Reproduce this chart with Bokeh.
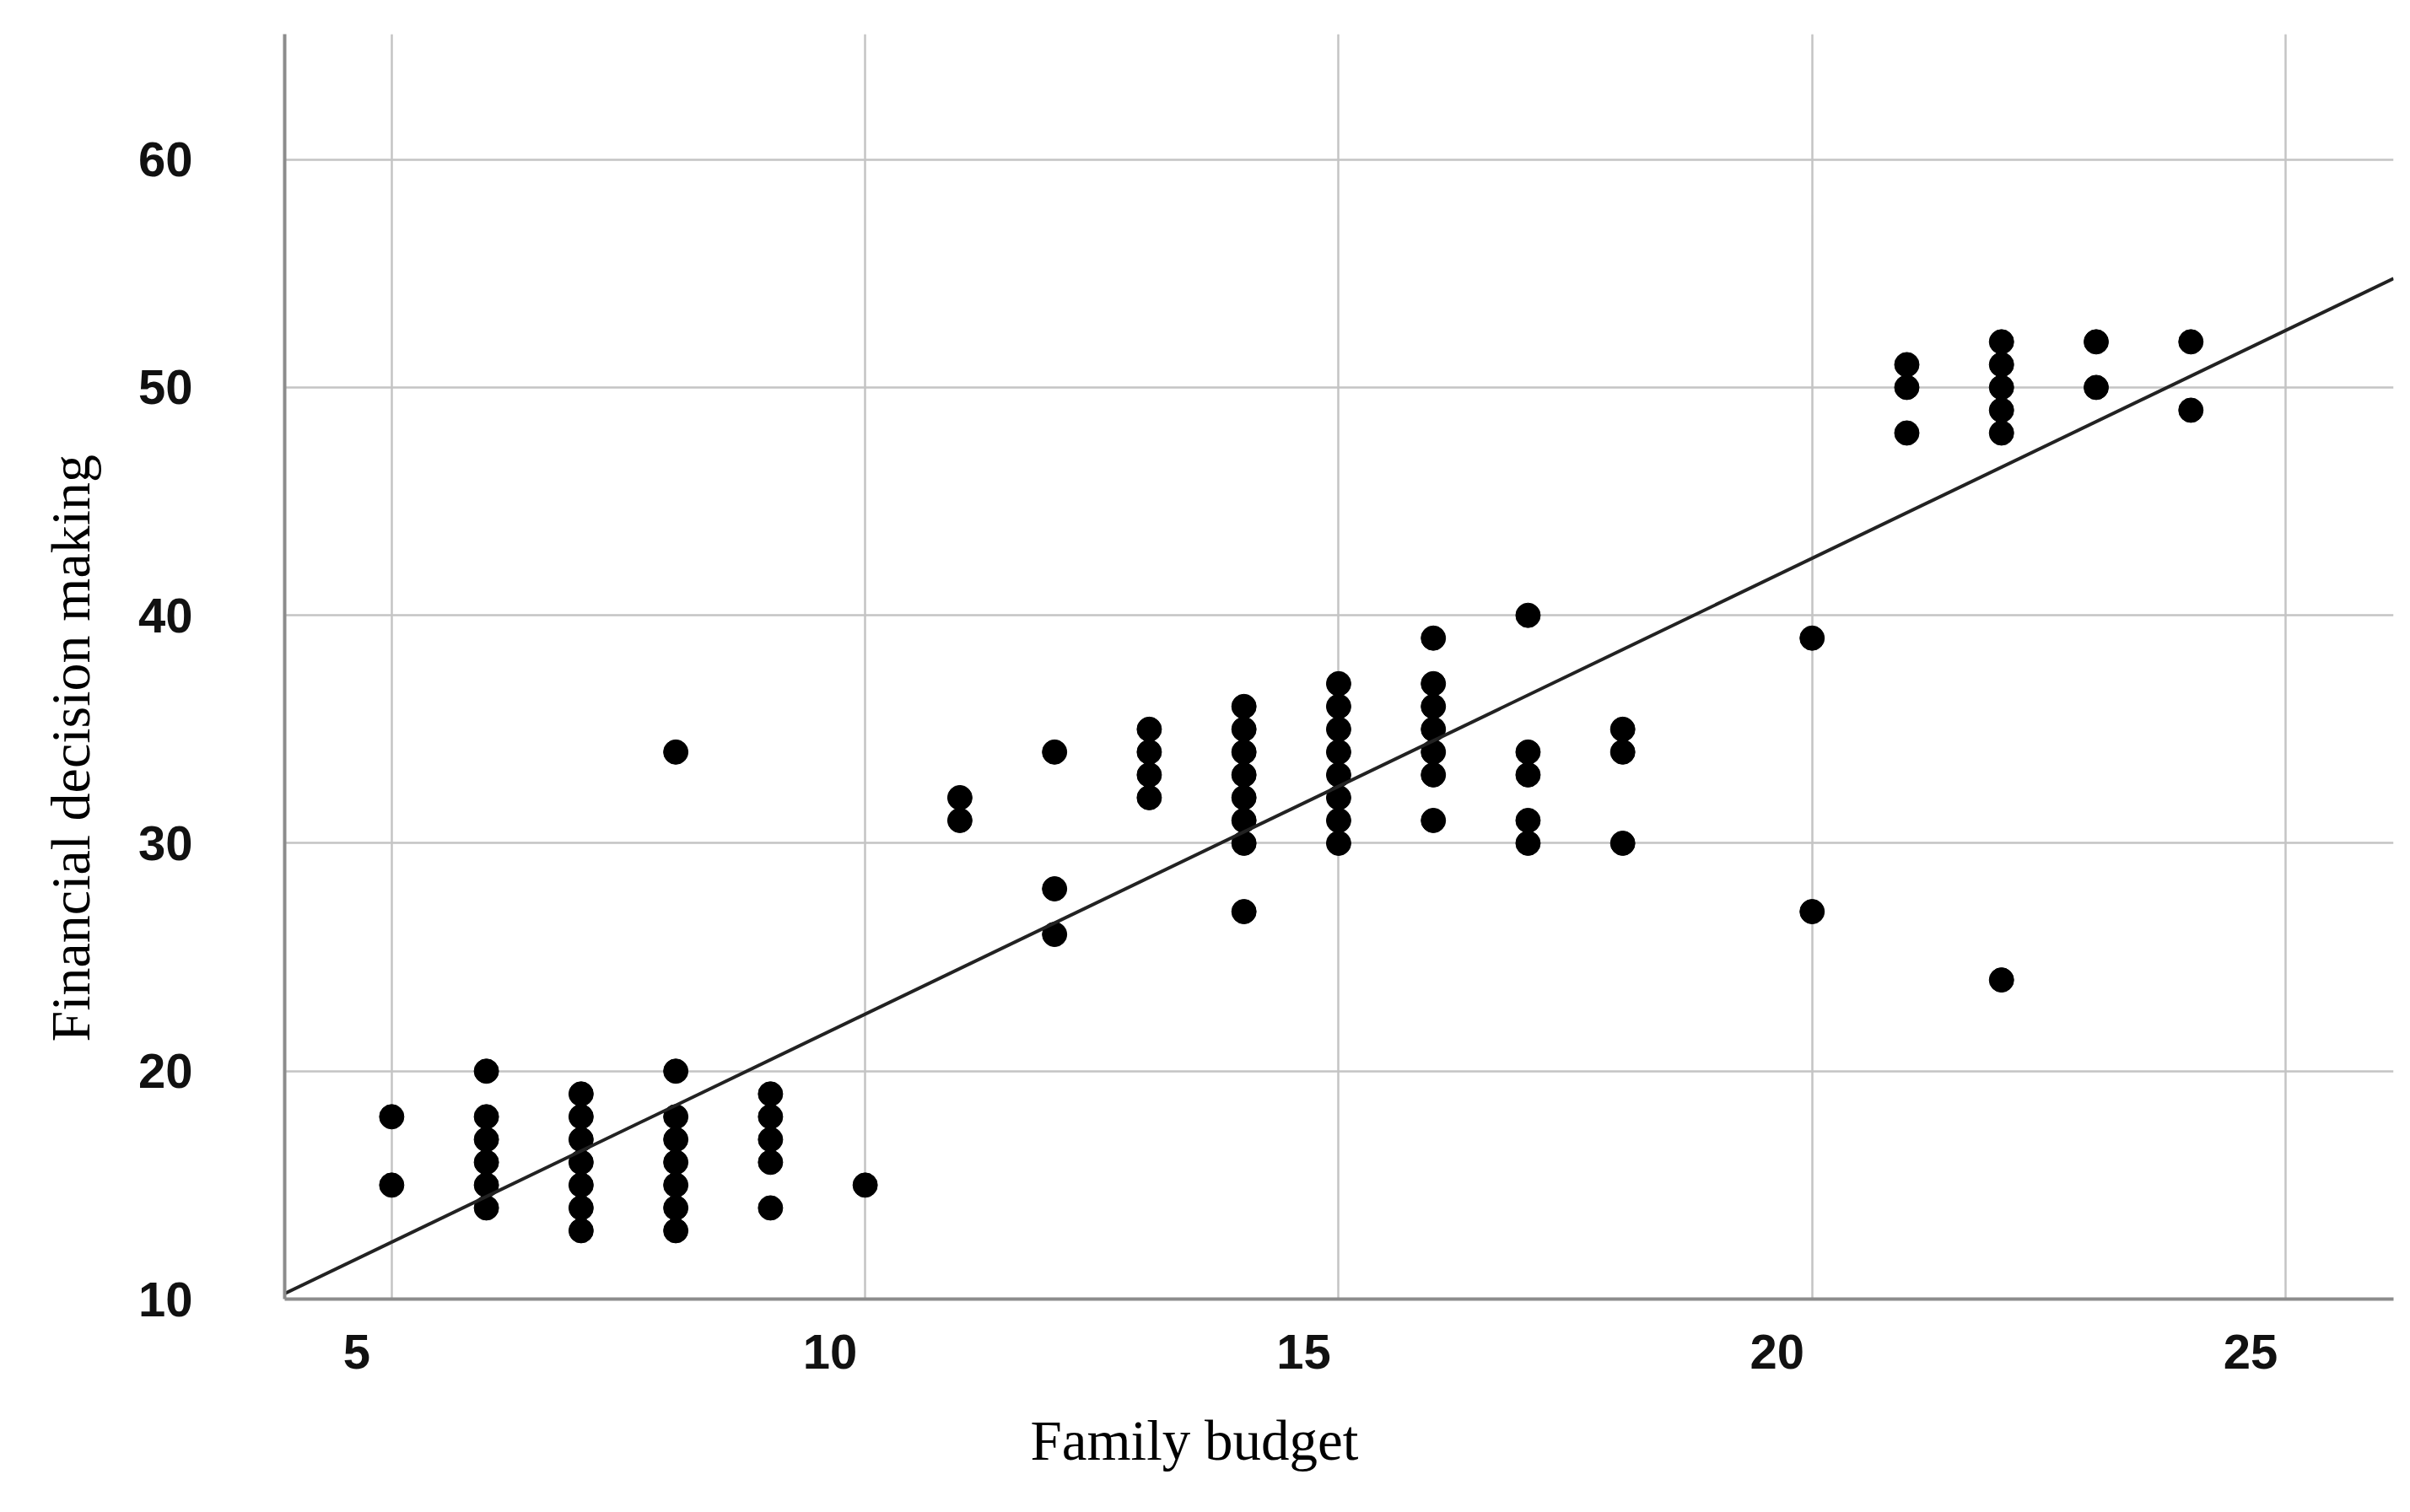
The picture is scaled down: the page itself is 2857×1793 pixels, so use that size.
from bokeh.plotting import figure
from bokeh.models import Range1d, LinearAxis, FixedTicker, Grid, Title
from bokeh.embed import file_html
from bokeh.resources import INLINE

# ---- data ----
budget_groups = [5, 6, 7, 8, 9, 10, 11, 12, 13, 14, 15, 16, 17, 18, 20, 21, 22, 23, 24]
decision_groups = [
    [18, 15],
    [20, 18, 17, 16, 15, 14],
    [19, 18, 17, 16, 15, 14, 13],
    [34, 20, 18, 17, 16, 15, 14, 13],
    [19, 18, 17, 16, 14],
    [15],
    [32, 31],
    [34, 28, 26],
    [35, 34, 33, 32],
    [36, 35, 34, 33, 32, 31, 30, 27],
    [37, 36, 35, 34, 33, 32, 31, 30],
    [39, 37, 36, 35, 34, 33, 31],
    [40, 34, 33, 31, 30],
    [35, 34, 30],
    [39, 27],
    [51, 50, 48],
    [52, 51, 50, 49, 48, 24],
    [52, 50],
    [52, 49],
]
family_budget = [b for b, ys in zip(budget_groups, decision_groups) for _ in ys]
financial_decision = [y for ys in decision_groups for y in ys]

# fitted line
fit_intercept = 2.5
fit_slope = 2.0

x_ticks = [5, 10, 15, 20, 25]
y_ticks = [10, 20, 30, 40, 50, 60]
x_title = "Family budget"
y_title = "Financial decision making"

x_start, x_end = 3.87, 26.14
y_start, y_end = 10, 65.5
label_shift = 0.37  # tick labels in the reference sit left of their gridlines

grid_color = "#c4c4c4"
axis_color = "#8c8c8c"

p = figure(width=2850, height=1793,
           x_range=Range1d(x_start, x_end), y_range=Range1d(y_start, y_end),
           output_backend="svg", toolbar_location=None,
           x_axis_location=None, y_axis_location="left",
           min_border_left=337, min_border_top=40, min_border_right=13, min_border_bottom=253)
p.outline_line_color = None
p.background_fill_color = "white"
p.border_fill_color = "white"


def style_axis(ax, standoff):
    ax.major_label_text_font = "Liberation Sans"
    ax.major_label_text_font_style = "bold"
    ax.major_label_text_font_size = "58px"
    ax.major_label_text_color = "#111111"
    ax.major_tick_out = 0
    ax.major_tick_in = 0
    ax.minor_tick_out = 0
    ax.minor_tick_in = 0
    ax.axis_line_color = axis_color
    ax.axis_line_width = 4
    ax.major_label_standoff = standoff


# y axis
ya = p.yaxis[0]
ya.ticker = FixedTicker(ticks=y_ticks)
style_axis(ya, 109)

p.ygrid.ticker = FixedTicker(ticks=y_ticks)
p.ygrid.grid_line_color = grid_color
p.ygrid.grid_line_width = 2.5

# x axis (labels on a shifted range)
p.extra_x_ranges = {"labels": Range1d(x_start + label_shift, x_end + label_shift)}
xa = LinearAxis(x_range_name="labels", ticker=FixedTicker(ticks=x_ticks))
style_axis(xa, 42)
p.add_layout(xa, "below")

p.add_layout(Grid(dimension=0, ticker=FixedTicker(ticks=x_ticks),
                  grid_line_color=grid_color, grid_line_width=2.5))

# points and fitted line
p.scatter(family_budget, financial_decision, size=29, color="black")
p.line([x_start, x_end],
       [fit_intercept + fit_slope * x_start, fit_intercept + fit_slope * x_end],
       line_color="#222222", line_width=4)

# axis titles
p.add_layout(Title(text=x_title, align="left", offset=884, standoff=86,
                   text_font="Liberation Serif", text_font_size="67px",
                   text_font_style="normal", text_color="black"), "below")
p.add_layout(Title(text=y_title, align="left", offset=305, standoff=82,
                   text_font="Liberation Serif", text_font_size="66px",
                   text_font_style="normal", text_color="black"), "left")

open("out.html", "w").write(file_html(p, INLINE))
